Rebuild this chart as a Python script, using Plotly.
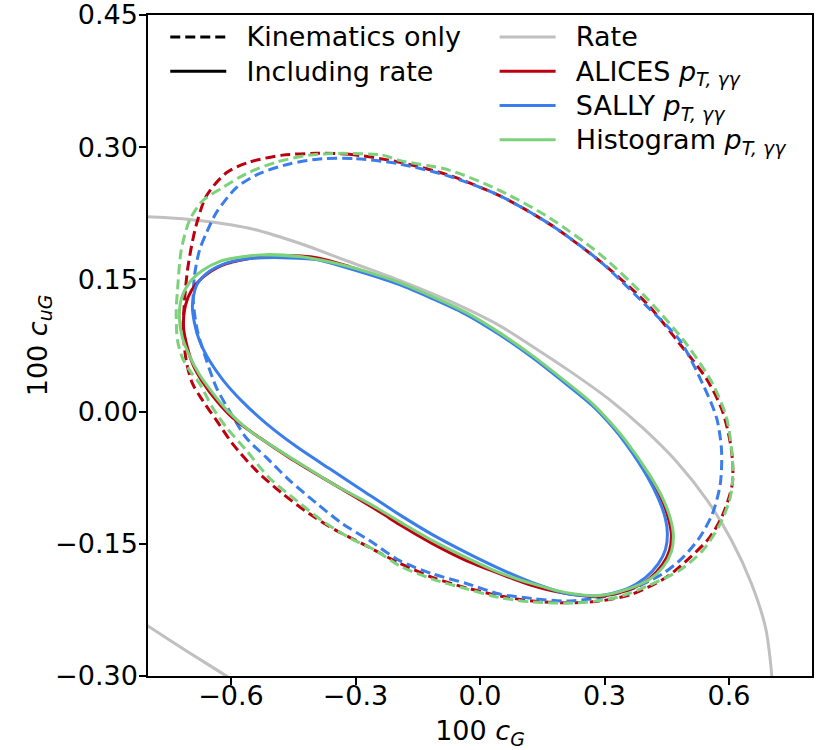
import plotly.graph_objects as go

# ---------------- data ----------------
x_ticks = [-0.6, -0.3, 0.0, 0.3, 0.6]
y_ticks = [-0.30, -0.15, 0.00, 0.15, 0.30, 0.45]

# Rate constraint (two arcs of the same ellipse, separated by None)
rate_x = [-0.83, -0.801, -0.700, -0.556, -0.435, -0.315, -0.194, -0.074, 0.047, 0.131, 0.2155, 0.312,
          0.391, 0.476, 0.548, 0.606, 0.654, 0.688, 0.702, 0.705, None,
          -0.83, -0.801, -0.709, -0.608, -0.58]
rate_y = [0.2215, 0.221, 0.218, 0.208, 0.191, 0.170, 0.149, 0.1255, 0.0975, 0.0725, 0.0462, 0.0136,
          -0.018, -0.058, -0.101, -0.146, -0.195, -0.245, -0.294, -0.317, None,
          -0.234, -0.243, -0.271, -0.301, -0.31]

# ALICES, kinematics only (closed contour)
alices_kin_x = [-0.394, -0.315, -0.194, -0.074, 0.047, 0.167, 0.288, 0.401, 0.481, 0.546, 0.584, 0.606,
                0.608, 0.584, 0.553, 0.505, 0.449, 0.367, 0.288, 0.208, 0.126, 0.047, -0.033, -0.115,
                -0.194, -0.283, -0.346, -0.411, -0.476, -0.539, -0.597, -0.635, -0.669, -0.693, -0.708,
                -0.715, -0.712, -0.705, -0.695, -0.683, -0.659, -0.611, -0.556, -0.476, -0.394]
alices_kin_y = [0.293, 0.292, 0.283, 0.268, 0.245, 0.213, 0.171, 0.123, 0.077, 0.037, 0.001, -0.044,
                -0.082, -0.118, -0.143, -0.166, -0.188, -0.207, -0.215, -0.217, -0.215, -0.209, -0.200,
                -0.188, -0.172, -0.150, -0.135, -0.116, -0.093, -0.067, -0.036, -0.010, 0.013, 0.032,
                0.058, 0.092, 0.126, 0.160, 0.188, 0.213, 0.245, 0.271, 0.283, 0.291, 0.293]

# SALLY, kinematics only (closed contour)
sally_kin_x = [-0.380, -0.298, -0.194, -0.074, 0.047, 0.167, 0.288, 0.401, 0.481, 0.536, 0.570, 0.582,
               0.579, 0.560, 0.529, 0.488, 0.440, 0.367, 0.288, 0.208, 0.126, 0.047, -0.033, -0.115,
               -0.194, -0.267, -0.332, -0.394, -0.459, -0.515, -0.563, -0.604, -0.635, -0.659, -0.681,
               -0.691, -0.688, -0.676, -0.659, -0.635, -0.587, -0.532, -0.459, -0.380]
sally_kin_y = [0.287, 0.287, 0.281, 0.267, 0.245, 0.213, 0.171, 0.120, 0.081, 0.032, -0.007, -0.044,
               -0.082, -0.116, -0.143, -0.166, -0.184, -0.201, -0.211, -0.215, -0.212, -0.207, -0.195,
               -0.184, -0.169, -0.146, -0.127, -0.104, -0.078, -0.052, -0.030, 0.001, 0.027, 0.058,
               0.092, 0.126, 0.154, 0.183, 0.203, 0.226, 0.254, 0.270, 0.281, 0.287]

# Histogram, kinematics only (closed contour)
hist_kin_x = [-0.332, -0.235, -0.194, -0.074, 0.047, 0.167, 0.288, 0.401, 0.497, 0.560, 0.594, 0.608,
              0.608, 0.601, 0.577, 0.536, 0.481, 0.408, 0.329, 0.232, 0.126, 0.047, -0.033, -0.115,
              -0.194, -0.250, -0.315, -0.380, -0.442, -0.508, -0.563, -0.611, -0.645, -0.676, -0.700,
              -0.717, -0.729, -0.732, -0.729, -0.720, -0.700, -0.669, -0.621, -0.563, -0.491, -0.411,
              -0.332]
hist_kin_y = [0.293, 0.291, 0.285, 0.274, 0.251, 0.220, 0.179, 0.129, 0.077, 0.032, -0.007, -0.052,
              -0.082, -0.101, -0.129, -0.158, -0.180, -0.197, -0.211, -0.217, -0.216, -0.211, -0.201,
              -0.190, -0.175, -0.158, -0.143, -0.124, -0.101, -0.075, -0.044, -0.018, 0.005, 0.032,
              0.047, 0.061, 0.081, 0.115, 0.137, 0.183, 0.217, 0.239, 0.254, 0.270, 0.283, 0.291,
              0.293]

# ALICES, including rate (closed contour)
alices_rate_x = [-0.3942, -0.3147, -0.2352, -0.1942, -0.1147, -0.0328, 0.0467, 0.1263, 0.1913, 0.2708,
                 0.3166, 0.3528, 0.4082, 0.4371, 0.4540, 0.4612, 0.4564, 0.4395, 0.4082, 0.3600,
                 0.2877, 0.2082, 0.1263, 0.0467, -0.0328, -0.1147, -0.1942, -0.2352, -0.2978, -0.3798,
                 -0.4593, -0.5316, -0.5966, -0.6352, -0.6689, -0.6906, -0.7051, -0.7147, -0.7099,
                 -0.6954, -0.6689, -0.6231, -0.5557, -0.4906, -0.3942]
alices_rate_y = [0.1747, 0.1645, 0.1520, 0.1452, 0.1294, 0.1112, 0.0885, 0.0624, 0.0386, 0.0079,
                 -0.0148, -0.0352, -0.0738, -0.0987, -0.1214, -0.1396, -0.1577, -0.1736, -0.1895,
                 -0.2020, -0.2099, -0.2065, -0.1974, -0.1838, -0.1691, -0.1498, -0.1282, -0.1157,
                 -0.0976, -0.0749, -0.0522, -0.0295, -0.0068, 0.0125, 0.0340, 0.0522, 0.0726, 0.0976,
                 0.1203, 0.1373, 0.1520, 0.1657, 0.1736, 0.1770, 0.1747]

# SALLY, including rate (closed contour)
sally_rate_x = [-0.3942, -0.3147, -0.1942, -0.1147, -0.0328, 0.0467, 0.1263, 0.1913, 0.2708, 0.3166,
                0.3528, 0.4034, 0.4299, 0.4468, 0.4516, 0.4468, 0.4299, 0.3986, 0.3552, 0.2877,
                0.2082, 0.1263, 0.0467, -0.0328, -0.1147, -0.1942, -0.2785, -0.3629, -0.4424, -0.5147,
                -0.5725, -0.6183, -0.6520, -0.6761, -0.6882, -0.6930, -0.6834, -0.6593, -0.6207,
                -0.5557, -0.4761, -0.3942]
sally_rate_y = [0.1725, 0.1623, 0.1441, 0.1282, 0.1101, 0.0874, 0.0613, 0.0374, 0.0068, -0.0159,
                -0.0374, -0.0738, -0.0987, -0.1214, -0.1396, -0.1566, -0.1725, -0.1884, -0.2008,
                -0.2088, -0.2065, -0.1940, -0.1781, -0.1600, -0.1396, -0.1169, -0.0908, -0.0647,
                -0.0397, -0.0136, 0.0113, 0.0352, 0.0579, 0.0806, 0.1010, 0.1203, 0.1430, 0.1566,
                0.1668, 0.1736, 0.1747, 0.1725]

# Histogram, including rate (closed contour)
hist_rate_x = [-0.4352, -0.3557, -0.2352, -0.1942, -0.1147, -0.0328, 0.0467, 0.1263, 0.1913, 0.2708,
               0.3166, 0.3528, 0.4082, 0.4395, 0.4588, 0.4660, 0.4612, 0.4419, 0.4082, 0.3600,
               0.2877, 0.2082, 0.1263, 0.0467, -0.0328, -0.1147, -0.1942, -0.2665, -0.3388, -0.4183,
               -0.4906, -0.5557, -0.6087, -0.6448, -0.6761, -0.7002, -0.7171, -0.7244, -0.7195,
               -0.7002, -0.6689, -0.6280, -0.5677, -0.5147, -0.4352]
hist_rate_y = [0.1759, 0.1691, 0.1532, 0.1464, 0.1305, 0.1123, 0.0896, 0.0635, 0.0397, 0.0091,
               -0.0136, -0.0340, -0.0715, -0.0976, -0.1214, -0.1407, -0.1589, -0.1759, -0.1906,
               -0.2008, -0.2088, -0.2054, -0.1952, -0.1827, -0.1657, -0.1464, -0.1248, -0.1044,
               -0.0862, -0.0635, -0.0420, -0.0216, 0.0011, 0.0216, 0.0420, 0.0635, 0.0840, 0.1055,
               0.1282, 0.1464, 0.1600, 0.1702, 0.1759, 0.1781, 0.1759]


def wrapped(xs, ys):
    """Closed contour -> path that overlaps one segment at each end so the spline has no corner."""
    bx, by = xs[:-1], ys[:-1]
    return [bx[-1]] + bx + [bx[0], bx[1]], [by[-1]] + by + [by[0], by[1]]


# ---------------- styling ----------------
RED = "#bd0010"
BLUE = "#3a7deb"
GREEN = "#7bd27b"
GRAY = "#c0c0c0"
LW = 3.0
DASH = "10px,5px"
FONT = "DejaVu Sans"
NB = "\u00a0\u00a0"


def label(txt):
    return NB + '<span style="font-size:27px">' + txt + "</span>"


fig = go.Figure()

# legend 1: line-style key
fig.add_trace(go.Scatter(x=[None], y=[None], mode="lines", name=label("Kinematics only"),
                         line=dict(color="black", width=LW, dash=DASH), legend="legend"))
fig.add_trace(go.Scatter(x=[None], y=[None], mode="lines", name=label("Including rate"),
                         line=dict(color="black", width=LW), legend="legend"))

# rate
fig.add_trace(go.Scatter(x=rate_x, y=rate_y, mode="lines", name=label("Rate"),
                         line=dict(color=GRAY, width=LW, shape="spline", smoothing=0.9),
                         legend="legend2", connectgaps=False))

series = [
    ("ALICES", RED, alices_kin_x, alices_kin_y, alices_rate_x, alices_rate_y),
    ("SALLY", BLUE, sally_kin_x, sally_kin_y, sally_rate_x, sally_rate_y),
    ("Histogram", GREEN, hist_kin_x, hist_kin_y, hist_rate_x, hist_rate_y),
]
for name, col, kx, ky, rx, ry in series:
    fig.add_trace(go.Scatter(x=kx, y=ky, mode="lines", showlegend=False,
                             line=dict(color=col, width=LW, dash=DASH, shape="spline", smoothing=0.8)))
for name, col, kx, ky, rx, ry in series:
    wx, wy = wrapped(rx, ry)
    fig.add_trace(go.Scatter(x=wx, y=wy, mode="lines",
                             name=label(f"{name} <i>p<sub>T, γγ</sub></i>"),
                             line=dict(color=col, width=LW, shape="spline", smoothing=0.8),
                             legend="legend2"))

axis_common = dict(showgrid=False, zeroline=False, showline=True, linecolor="black", linewidth=1.5,
                   mirror=True, ticks="outside", ticklen=7, tickwidth=1.5, tickcolor="black",
                   automargin=False, ticklabeloverflow="allow",
                   tickfont=dict(family=FONT, size=27, color="black"))

fig.update_layout(
    width=825, height=750,
    margin=dict(l=148, r=13, t=15, b=74),
    plot_bgcolor="white", paper_bgcolor="white",
    font=dict(family=FONT, size=27, color="black"),
    xaxis=dict(range=[-0.8, 0.8], tickvals=x_ticks, tickformat=".1f", ticklabelstandoff=-12,
               title=dict(text="100 <i>c<sub>G</sub></i>", font=dict(family=FONT, size=27), standoff=12),
               **axis_common),
    yaxis=dict(range=[-0.30, 0.45], tickvals=y_ticks, tickformat=".2f", ticklabelstandoff=-4,
               title=dict(text="100 <i>c<sub>uG</sub></i>", font=dict(family=FONT, size=27), standoff=0),
               **axis_common),
    legend=dict(x=0.026, y=1.0, xanchor="left", yanchor="top", bgcolor="rgba(0,0,0,0)",
                font=dict(family=FONT, size=24, color="black"), itemwidth=56, tracegroupgap=0),
    legend2=dict(x=0.522, y=1.0, xanchor="left", yanchor="top", bgcolor="rgba(0,0,0,0)",
                 font=dict(family=FONT, size=24, color="black"), itemwidth=56, tracegroupgap=0),
    showlegend=True,
)

fig.write_html("out.html")
